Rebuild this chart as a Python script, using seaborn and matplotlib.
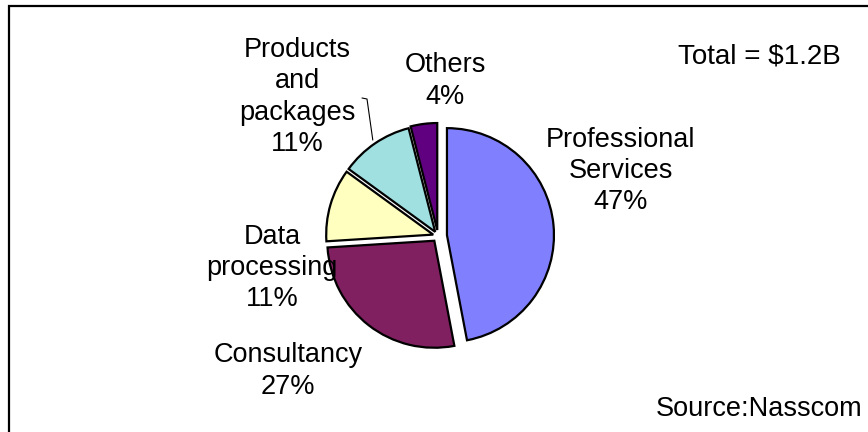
import numpy as np
import matplotlib
matplotlib.use("Agg")
import matplotlib.pyplot as plt
from matplotlib.patches import Rectangle
import seaborn as sns

# Market segments and their shares (%)
segments = ["Professional\nServices", "Consultancy", "Data\nprocessing",
            "Products\nand\npackages", "Others"]
shares = [47, 27, 11, 11, 4]
colors = ["#8080FF", "#802060", "#FFFFC0", "#A0E0E0", "#600080"]
total_text = "Total = $1.2B"
source_text = "Source:Nasscom"

sns.set_theme(style="white")
plt.rcParams["font.family"] = ["Liberation Sans", "DejaVu Sans"]
plt.rcParams["text.color"] = "black"

W, H = 868, 432
fig = plt.figure(figsize=(W / 100, H / 100), dpi=100)
ax = fig.add_axes([0, 0, 1, 1])

# pie geometry in pixel units (y measured upward)
cx, cy, R = 438, H - 236, 107
explode = [9, 6, 5, 5, 6]

wedges, _ = ax.pie(shares, colors=colors, startangle=90, counterclock=False,
                   radius=R, center=(cx, cy), explode=explode, frame=False,
                   wedgeprops=dict(edgecolor="black", linewidth=1.6))
ax.set_xlim(0, W)
ax.set_ylim(0, H)
ax.set_aspect("auto")
ax.axis("off")

# label placement (block centres, pixels from top-left)
label_pos = [(621, 171), (288, 371), (272, 268), (297, 97), (445, 81)]
fs = 19.5
ls = 1.27
for seg, val, (px, py) in zip(segments, shares, label_pos):
    ax.text(px, H - py, f"{seg}\n{val}%", ha="center", va="center",
            fontsize=fs, linespacing=ls, color="black")

# leader line for the products slice
w = wedges[3]
mid = np.deg2rad((w.theta1 + w.theta2) / 2)
ex, ey = w.center[0] + (R + 4) * np.cos(mid), w.center[1] + (R + 4) * np.sin(mid)
ax.plot([362, 367, ex], [H - 98, H - 99, ey], color="black", lw=0.8)

ax.text(759, H - 57, total_text, ha="center", va="center", fontsize=fs + 0.5,
        color="black")
ax.text(759, H - 409, source_text, ha="center", va="center", fontsize=fs,
        color="black")

# outer frame
ax.add_patch(Rectangle((9, -20), W + 40, H - 6 + 20, fill=False,
                       edgecolor="black", linewidth=1.6, clip_on=False))

fig.savefig("out.png", dpi=100)
